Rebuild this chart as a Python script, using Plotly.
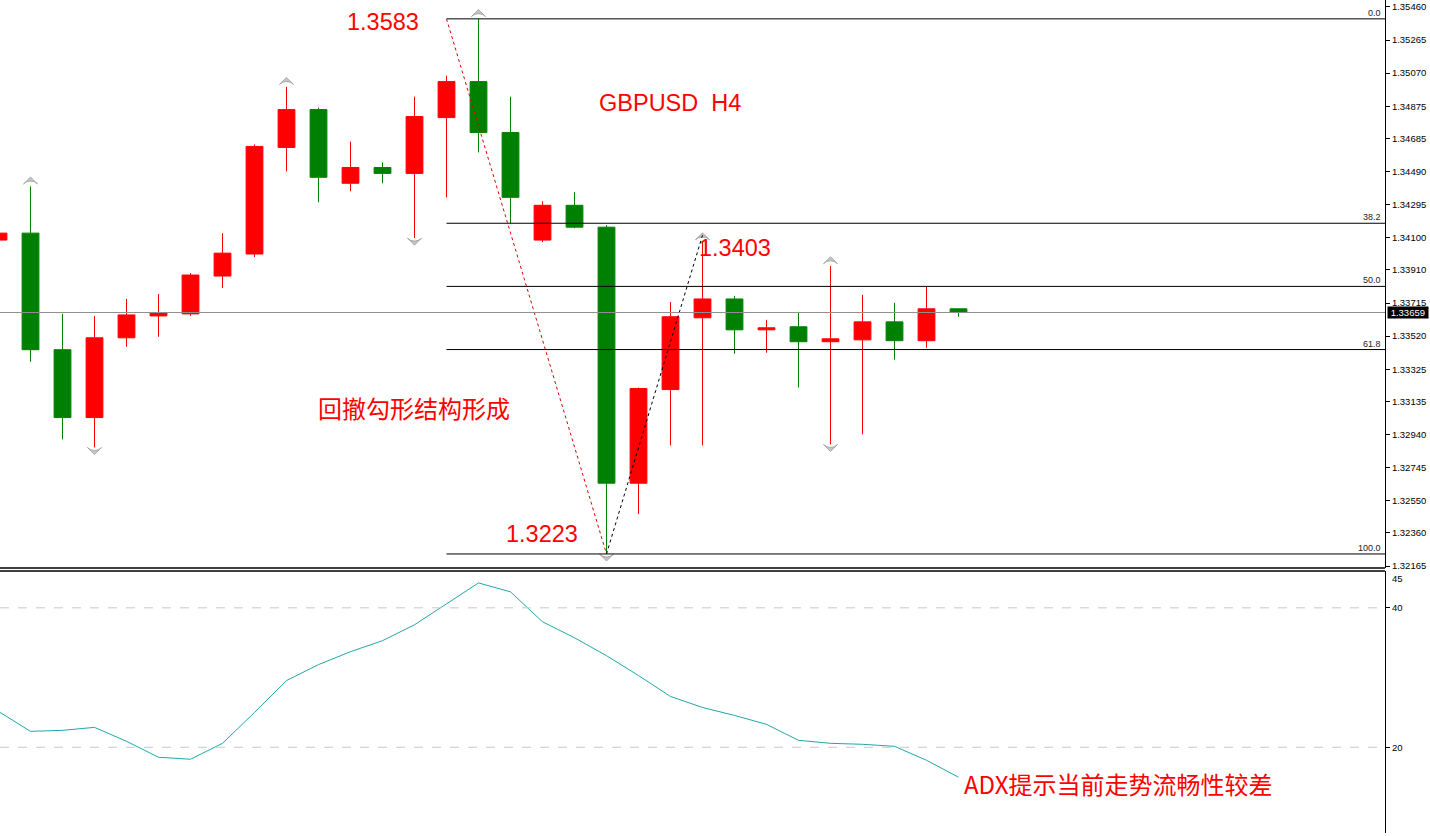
import plotly.graph_objects as go

# ---------------- data ----------------
idx = list(range(31))
opens = [1.34086, 1.34127, 1.33440, 1.33040, 1.33510, 1.33639, 1.33651, 1.33874, 1.34004, 1.34632,
         1.34855, 1.34421, 1.34514, 1.34479, 1.34808, 1.35020, 1.34720, 1.34086, 1.34291, 1.34162,
         1.32653, 1.33205, 1.33628, 1.33739, 1.33557, 1.33575, 1.33487, 1.33498, 1.33604, 1.33493,
         1.33681]
highs = [1.34127, 1.34403, 1.33651, 1.33639, 1.33739, 1.33769, 1.33892, 1.34127, 1.34650, 1.34990,
         1.34867, 1.34667, 1.34544, 1.34931, 1.35055, 1.35390, 1.34931, 1.34315, 1.34368, 1.34174,
         1.33217, 1.33722, 1.34074, 1.33757, 1.33616, 1.33663, 1.33933, 1.33763, 1.33716, 1.33810,
         1.33681]
lows = [1.34086, 1.33369, 1.32911, 1.32864, 1.33457, 1.33516, 1.33639, 1.33804, 1.33986, 1.34491,
        1.34309, 1.34374, 1.34421, 1.34098, 1.34338, 1.34603, 1.34186, 1.34074, 1.34156, 1.32236,
        1.32471, 1.32876, 1.32876, 1.33416, 1.33422, 1.33217, 1.32882, 1.32941, 1.33381, 1.33451,
        1.33634]
closes = [1.34127, 1.33440, 1.33040, 1.33510, 1.33645, 1.33657, 1.33880, 1.34009, 1.34638, 1.34855,
          1.34456, 1.34514, 1.34479, 1.34814, 1.35020, 1.34720, 1.34338, 1.34291, 1.34162, 1.32653,
          1.33211, 1.33634, 1.33739, 1.33557, 1.33569, 1.33487, 1.33504, 1.33604, 1.33493, 1.33681,
          1.33659]
adx = [25.14, 22.29, 22.43, 22.86, 20.86, 18.57, 18.29, 20.57, 25.0, 29.57,
       31.86, 33.71, 35.29, 37.57, 40.57, 43.57, 42.29, 38.0, 35.71, 33.14,
       30.29, 27.29, 25.71, 24.57, 23.29, 21.0, 20.57, 20.43, 20.14, 18.14,
       15.71]
up_fractals = [1, 9, 15, 22, 26]
down_fractals = [3, 13, 19, 26]

price_ticks = [1.35460, 1.35265, 1.35070, 1.34875, 1.34685, 1.34490, 1.34295, 1.34100, 1.33910,
               1.33715, 1.33520, 1.33325, 1.33135, 1.32940, 1.32745, 1.32550, 1.32360, 1.32165]
adx_ticks = [40, 20]
adx_levels = [40, 20]
fib_ratios = [0.0, 0.382, 0.5, 0.618, 1.0]
fib_labels = ["0.0", "38.2", "50.0", "61.8", "100.0"]
fib_start, fib_high_i, fib_low_i = 14, 15, 19
swing_high_i, swing_low_i = 22, 19

# ---------------- layout geometry ----------------
W, H = 1430, 836
R = 45
PW = W - R
XMIN = 0.046875
XMAX = XMIN + PW / 32
Y_MAIN = [1.321535, 1.355011]
Y_ADX = [7.71, 45.29]
MAIN_DOM = [1 - 570 / H, 1]
ADX_DOM = [0, 1 - 573 / H]

def px(x):
    return x / PW

def py(y):
    return 1 - y / H

RED = "#FF0000"
GREEN = "#008000"

fig = go.Figure()

fig.add_trace(go.Candlestick(
    x=idx, open=opens, high=highs, low=lows, close=closes,
    increasing=dict(line=dict(color=RED, width=1), fillcolor=RED),
    decreasing=dict(line=dict(color=GREEN, width=1), fillcolor=GREEN),
    whiskerwidth=0, showlegend=False, hoverinfo="skip",
    xaxis="x", yaxis="y",
))

# fractal arrows
fig.add_trace(go.Scatter(
    x=up_fractals, y=[highs[i] + 0.00055 for i in up_fractals], mode="markers",
    marker=dict(symbol="arrow-wide", angle=0, size=10, color="#C4C4C4", line=dict(color="#8A8A8A", width=0.6)),
    showlegend=False, hoverinfo="skip", xaxis="x", yaxis="y"))
fig.add_trace(go.Scatter(
    x=down_fractals, y=[lows[i] - 0.00042 for i in down_fractals], mode="markers",
    marker=dict(symbol="arrow-wide", angle=180, size=10, color="#C4C4C4", line=dict(color="#8A8A8A", width=0.6)),
    showlegend=False, hoverinfo="skip", xaxis="x", yaxis="y"))

# ADX
fig.add_trace(go.Scatter(
    x=idx, y=adx, mode="lines", line=dict(color="#20A8A8", width=1),
    showlegend=False, hoverinfo="skip", xaxis="x2", yaxis="y2"))

shapes = []
fh = highs[fib_high_i]
fl = lows[fib_low_i]
for r in fib_ratios:
    lvl = fh - r * (fh - fl)
    shapes.append(dict(type="line", xref="x", yref="y", x0=fib_start, x1=XMAX, y0=lvl, y1=lvl,
                       line=dict(color="black", width=1)))
# fib trend line (red dotted)
shapes.append(dict(type="line", xref="x", yref="y", x0=fib_start, y0=fh, x1=fib_low_i, y1=fl,
                   line=dict(color="#E00000", width=1, dash="dot")))
# swing line (black dotted)
shapes.append(dict(type="line", xref="x", yref="y", x0=swing_low_i, y0=lows[swing_low_i],
                   x1=swing_high_i, y1=highs[swing_high_i] + 0.0004,
                   line=dict(color="black", width=1, dash="dot")))
# current price line
last = closes[-1]
shapes.append(dict(type="line", xref="x", yref="y", x0=XMIN, x1=XMAX, y0=last, y1=last,
                   line=dict(color="#909090", width=1)))
# ADX level lines
for lv in adx_levels:
    shapes.append(dict(type="line", xref="x2", yref="y2", x0=XMIN, x1=XMAX, y0=lv, y1=lv,
                       line=dict(color="#C8C8C8", width=1, dash="dash")))
# panel separators
shapes.append(dict(type="line", xref="paper", yref="paper", x0=0, x1=1, y0=MAIN_DOM[0], y1=MAIN_DOM[0],
                   line=dict(color="black", width=1.5)))
shapes.append(dict(type="line", xref="paper", yref="paper", x0=0, x1=1, y0=ADX_DOM[1], y1=ADX_DOM[1],
                   line=dict(color="black", width=1.5)))

annotations = []
for r, lab in zip(fib_ratios, fib_labels):
    lvl = fh - r * (fh - fl)
    annotations.append(dict(x=XMAX, y=lvl, xref="x", yref="y", text=lab, showarrow=False,
                            xanchor="right", yanchor="bottom", xshift=-2, yshift=-1,
                            font=dict(family="Liberation Sans", size=9, color="#222222")))
annotations.append(dict(x=1, y=last, xref="paper", yref="y", text=" " + f"{last:.5f}" + " ",
                        showarrow=False, xanchor="left", yanchor="middle", xshift=2,
                        bgcolor="black", borderpad=0,
                        font=dict(family="Liberation Sans", size=9.5, color="white")))
annotations.append(dict(x=1, y=py(581), xref="paper", yref="paper", text="45", showarrow=False,
                        xanchor="left", yanchor="middle", xshift=5,
                        font=dict(family="Liberation Sans", size=9.5, color="black")))

FNUM = "Liberation Sans"
FCJK = "Noto Sans CJK SC"
texts = [
    ("1.3583", 383, 22, 23.5, FNUM),
    ("GBPUSD  H4", 670, 103, 23.5, FNUM),
    ("1.3403", 735, 249, 23.5, FNUM),
    ("回撤勾形结构形成", 414, 409, 24, FCJK),
    ("1.3223", 542, 536, 23.5, FNUM),
    ("ADX提示当前走势流畅性较差", 1118, 786, 24, FCJK),
]
for t, x, y, s, f in texts:
    annotations.append(dict(x=px(x), y=py(y), xref="paper", yref="paper", text=t, showarrow=False,
                            xanchor="center", yanchor="middle",
                            font=dict(family=f, size=s, color="#FF0000")))

fig.update_layout(
    width=W, height=H,
    margin=dict(l=0, r=R, t=0, b=0),
    paper_bgcolor="white", plot_bgcolor="white",
    boxgap=0.25,
    showlegend=False,
    shapes=shapes,
    annotations=annotations,
    xaxis=dict(range=[XMIN, XMAX], anchor="y", showgrid=False, zeroline=False, showticklabels=False,
               showline=False, ticks="", rangeslider=dict(visible=False), fixedrange=True),
    xaxis2=dict(range=[XMIN, XMAX], anchor="y2", showgrid=False, zeroline=False, showticklabels=False,
                showline=False, ticks="", matches="x"),
    yaxis=dict(domain=MAIN_DOM, range=Y_MAIN, side="right", showgrid=False, zeroline=False,
               tickvals=price_ticks, ticktext=[f"{v:.5f}" for v in price_ticks],
               ticks="outside", ticklen=4, tickcolor="black", showline=True, linecolor="black",
               linewidth=1, tickfont=dict(family="Liberation Sans", size=9.5, color="black")),
    yaxis2=dict(domain=ADX_DOM, range=Y_ADX, side="right", showgrid=False, zeroline=False,
                tickvals=adx_ticks, ticks="outside", ticklen=4, tickcolor="black",
                showline=True, linecolor="black", linewidth=1,
                tickfont=dict(family="Liberation Sans", size=9.5, color="black")),
)

fig.write_html("out.html", config={"displayModeBar": False, "staticPlot": True},
               post_script="document.body.style.margin='0px';document.body.style.overflow='hidden';")
